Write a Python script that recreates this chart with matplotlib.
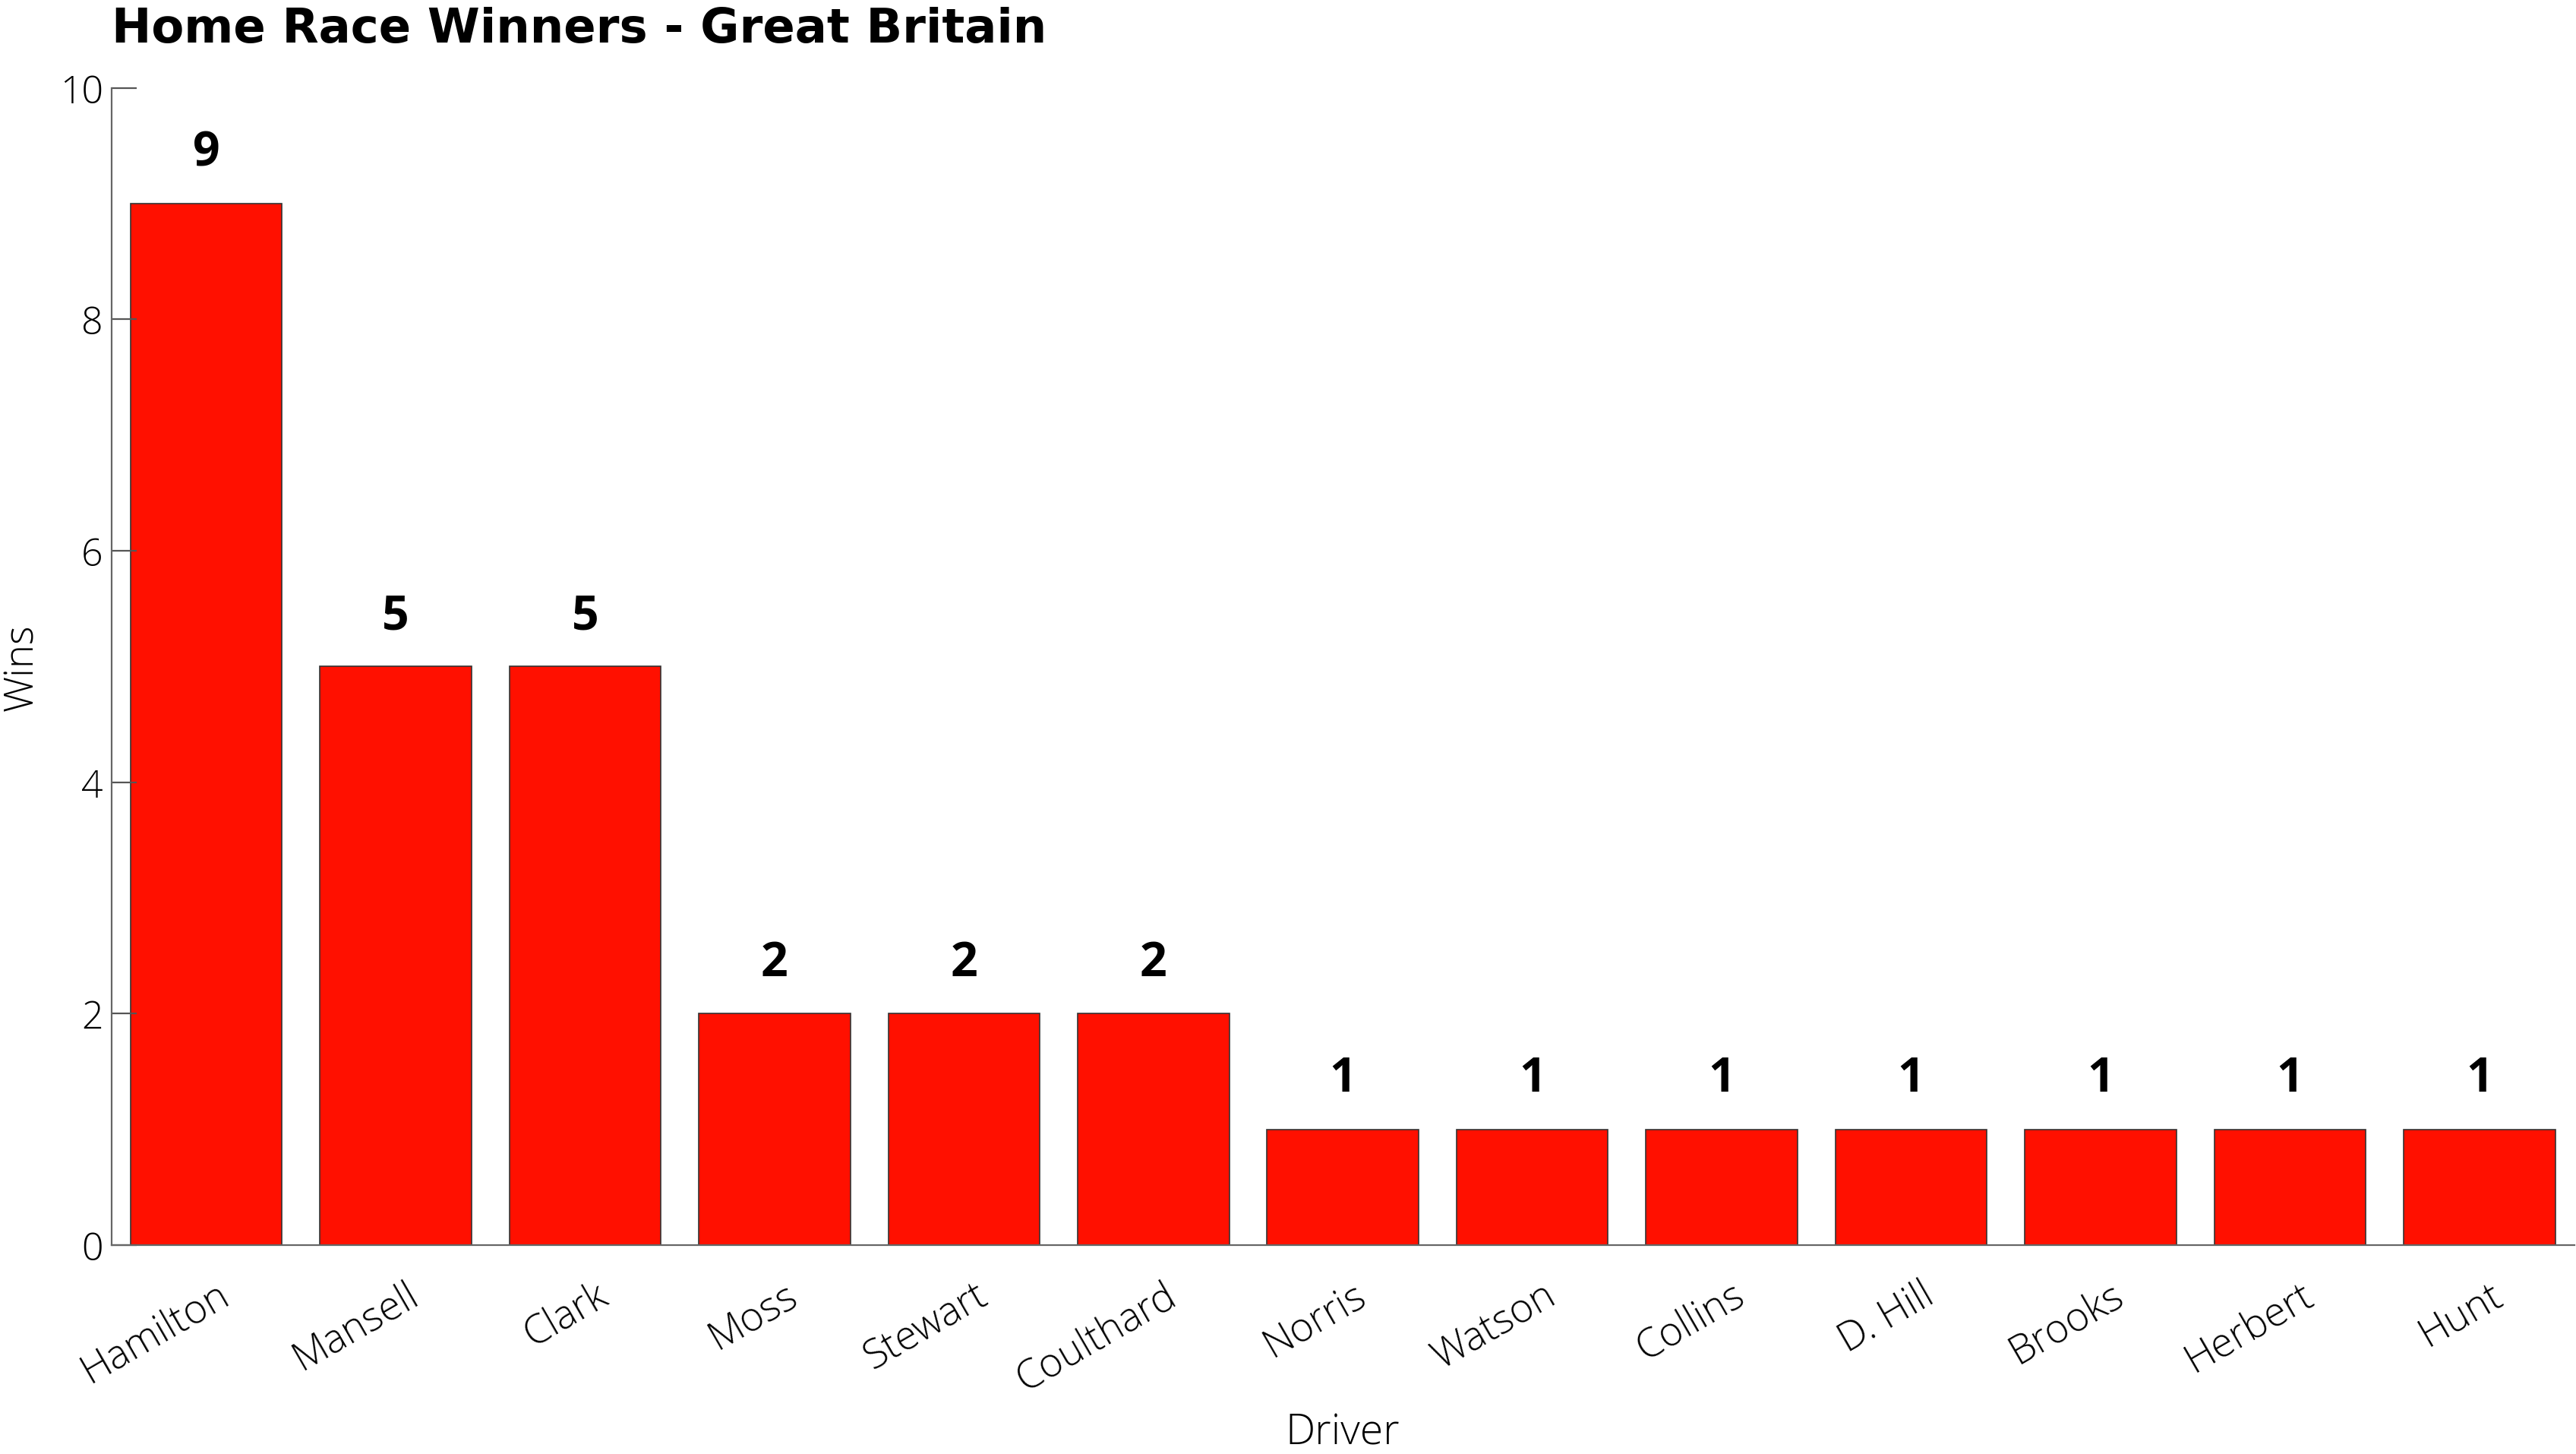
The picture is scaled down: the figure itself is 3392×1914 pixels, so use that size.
import matplotlib
matplotlib.use('Agg')
import matplotlib.pyplot as plt
import matplotlib.transforms as mtransforms

# data
drivers = ['Hamilton', 'Mansell', 'Clark', 'Moss', 'Stewart', 'Coulthard',
           'Norris', 'Watson', 'Collins', 'D. Hill', 'Brooks', 'Herbert', 'Hunt']
wins = [9, 5, 5, 2, 2, 2, 1, 1, 1, 1, 1, 1, 1]
yticks = [0, 2, 4, 6, 8, 10]

plt.rcParams['font.family'] = ['Open Sans', 'DejaVu Sans']

fig = plt.figure(figsize=(16.96, 9.575), dpi=200)
ax = fig.add_axes([0.0433, 0.1436, 0.956, 0.7954])

ax.bar(range(len(drivers)), wins, width=0.8, color='#ff1000',
       edgecolor='#333333', linewidth=0.6)

# value labels above bars
for i, v in enumerate(wins):
    ax.text(i, v + 0.33, str(v), ha='center', va='baseline',
            fontsize=22.5, fontweight='bold', color='black')

ax.set_xlim(-0.5, 12.5)
ax.set_ylim(0, 10)
ax.set_yticks(yticks)
ax.set_xticks(range(len(drivers)))
ax.tick_params(axis='y', direction='in', length=12, width=0.8, color='#555555', pad=4)
ax.tick_params(axis='x', direction='in', length=0, pad=14)

ax.set_xticklabels(drivers, rotation=30, ha='right', fontsize=19, fontweight='light')
# shift rotated labels a little to the right (after tick_params, which resets transforms)
offset = mtransforms.ScaledTranslation(0.2, 0, fig.dpi_scale_trans)
for lbl in ax.get_xticklabels():
    lbl.set_transform(lbl.get_transform() + offset)
for lbl in ax.get_yticklabels():
    lbl.set_fontsize(18)
    lbl.set_fontweight('light')

for s in ['top', 'right']:
    ax.spines[s].set_visible(False)
for s in ['left', 'bottom']:
    ax.spines[s].set_color('#666666')
    ax.spines[s].set_linewidth(0.8)

ax.set_xlabel('Driver', fontsize=20, fontweight='light', labelpad=6)
ax.set_ylabel('Wins', fontsize=19, fontweight='light', labelpad=8)
ax.set_title('Home Race Winners - Great Britain', loc='left', fontsize=22.5,
             fontweight='bold', family='DejaVu Sans', pad=22)

fig.savefig('out.png', dpi=200)
